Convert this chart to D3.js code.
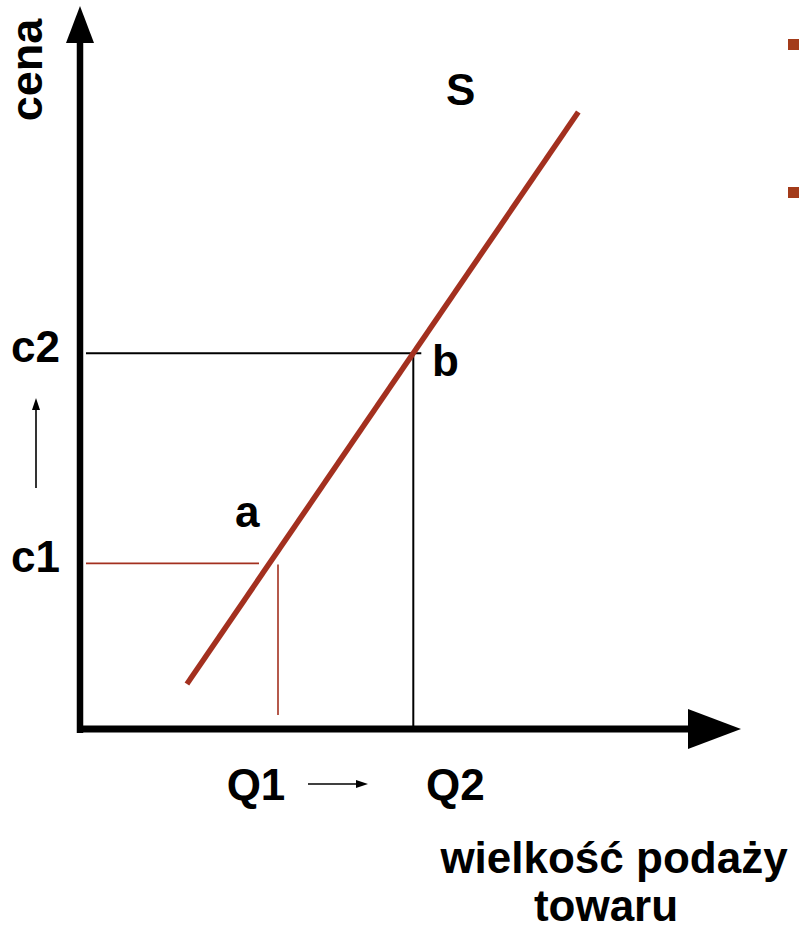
<!DOCTYPE html>
<html>
<head>
<meta charset="utf-8">
<script src="https://cdn.jsdelivr.net/npm/d3@7"></script>
<style>
  body { margin: 0; background: #fff; }
  text { font-family: "Liberation Sans", Arial, sans-serif; font-weight: bold; fill: #000; }
</style>
</head>
<body>
<div id="chart"></div>
<script>
// supply curve S, two points a and b
const quantities = [3.0, 5.05];      // Q1, Q2
const prices = [2.3, 5.22];          // c1, c2
const qLabels = ["Q1", "Q2"];
const cLabels = ["c1", "c2"];
const pointLabels = ["a", "b"];
const supplyQ = [1.62, 7.55];
const supplyP = [0.625, 8.57];
const curveLabel = "S";
const xTitle = ["wielkość podaży", "towaru"];
const yTitle = "cena";

const W = 799, H = 929;
const red = "#a3301f";

const svg = d3.select("#chart").append("svg")
    .attr("width", W).attr("height", H);

const x = d3.scaleLinear().domain([0, 10]).range([80, 740]);
const y = d3.scaleLinear().domain([0, 10]).range([729, 9]);

// guide lines for point a (red) and b (black)
svg.append("line")
    .attr("x1", x(0) + 6).attr("x2", 259)
    .attr("y1", y(prices[0])).attr("y2", y(prices[0]))
    .attr("stroke", red).attr("stroke-width", 1.6);
svg.append("line")
    .attr("x1", x(quantities[0])).attr("x2", x(quantities[0]))
    .attr("y1", y(prices[0]) + 1).attr("y2", y(0) - 14)
    .attr("stroke", red).attr("stroke-width", 1.6);
svg.append("line")
    .attr("x1", x(0) + 6).attr("x2", x(quantities[1]) + 8)
    .attr("y1", y(prices[1])).attr("y2", y(prices[1]))
    .attr("stroke", "#000").attr("stroke-width", 2);
svg.append("line")
    .attr("x1", x(quantities[1])).attr("x2", x(quantities[1]))
    .attr("y1", y(prices[1])).attr("y2", y(0))
    .attr("stroke", "#000").attr("stroke-width", 2);

// supply line
const pts = supplyQ.map((q, i) => [x(q), y(supplyP[i])]);
svg.append("path")
    .attr("d", d3.line()(pts))
    .attr("stroke", red).attr("stroke-width", 5.5).attr("fill", "none");

// axes with arrowheads
svg.append("line")
    .attr("x1", x(0)).attr("x2", x(0))
    .attr("y1", y(0) + 4).attr("y2", 42)
    .attr("stroke", "#000").attr("stroke-width", 6.5);
svg.append("path")
    .attr("d", `M${x(0)},6 L${x(0) - 14},43 L${x(0) + 14},43 Z`)
    .attr("fill", "#000");
svg.append("line")
    .attr("x1", x(0) - 3).attr("x2", 690)
    .attr("y1", y(0)).attr("y2", y(0))
    .attr("stroke", "#000").attr("stroke-width", 7);
svg.append("path")
    .attr("d", `M741,${y(0)} L688,${y(0) - 20} L688,${y(0) + 20} Z`)
    .attr("fill", "#000");

// tick labels
svg.selectAll(".clab").data(cLabels).join("text")
    .attr("x", 11).attr("y", (d, i) => y(prices[i]) + 9)
    .attr("font-size", 44).text(d => d);
svg.selectAll(".qlab").data(qLabels).join("text")
    .attr("text-anchor", "middle")
    .attr("x", (d, i) => x(quantities[i]) + (i === 0 ? -22 : 42))
    .attr("y", 800)
    .attr("font-size", 44).text(d => d);

// point labels
svg.append("text").attr("x", 235).attr("y", 527).attr("font-size", 44).text(pointLabels[0]);
svg.append("text").attr("x", 432).attr("y", 376).attr("font-size", 44).text(pointLabels[1]);
svg.append("text").attr("x", 446).attr("y", 105).attr("font-size", 44).text(curveLabel);

// small arrows: price up, quantity right
svg.append("line").attr("x1", 36).attr("x2", 36).attr("y1", 488).attr("y2", 408)
    .attr("stroke", "#000").attr("stroke-width", 1.6);
svg.append("path").attr("d", "M36,398 L32,410 L40,410 Z").attr("fill", "#000");
svg.append("line").attr("x1", 308).attr("x2", 358).attr("y1", 784).attr("y2", 784)
    .attr("stroke", "#000").attr("stroke-width", 1.6);
svg.append("path").attr("d", "M368,784 L356,780 L356,788 Z").attr("fill", "#000");

// axis titles
svg.append("text")
    .attr("transform", "translate(42,70) rotate(-90)")
    .attr("text-anchor", "middle").attr("font-size", 45).text(yTitle);
svg.selectAll(".xt").data(xTitle).join("text")
    .attr("text-anchor", "middle")
    .attr("x", (d, i) => i === 0 ? 614 : 606)
    .attr("y", (d, i) => 873 + i * 48)
    .attr("font-size", 44).text(d => d);

// slide bullets at right edge
svg.selectAll(".bullet").data([39, 187]).join("rect")
    .attr("x", 788).attr("y", d => d).attr("width", 11).attr("height", 11)
    .attr("fill", "#a33b1a");
</script>
</body>
</html>
